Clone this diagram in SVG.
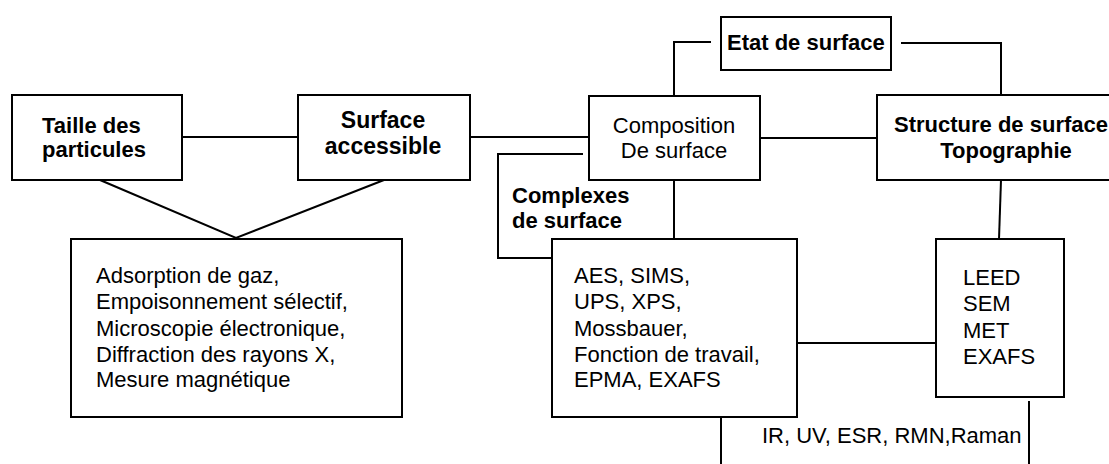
<svg xmlns="http://www.w3.org/2000/svg" width="1109" height="464" viewBox="0 0 1109 464">
<style>
.box{fill:#fff;stroke:#000;stroke-width:2}
.ln{fill:none;stroke:#000;stroke-width:2}
text{font-family:"Liberation Sans",Arial,sans-serif;font-size:22px;fill:#000}
.b{font-weight:bold}
.c{text-anchor:middle}
</style>
<rect width="1109" height="464" fill="#fff"/>
<g id="connectors">
<path class="ln" d="M182 137H298"/>
<path class="ln" d="M100 180L236 238L384 180"/>
<path class="ln" d="M470 137H589"/>
<path class="ln" d="M674 96V42H711"/>
<path class="ln" d="M901 43H1001V95"/>
<path class="ln" d="M760 138H877"/>
<path class="ln" d="M583 154H498V258H552"/>
<path class="ln" d="M674 180V239"/>
<path class="ln" d="M1001 180L999 239"/>
<path class="ln" d="M797 343H936"/>
<path class="ln" d="M721 413V464"/>
<path class="ln" d="M1029 401V464"/>
</g>
<g id="taille">
<rect class="box" x="12" y="95" width="170" height="85"/>
<text class="b" x="42" y="133">Taille des</text>
<text class="b" x="42" y="157">particules</text>
</g>
<g id="surface-accessible">
<rect class="box" x="298" y="95" width="172" height="85"/>
<text class="b c" x="383" y="128" style="font-size:23px">Surface</text>
<text class="b c" x="383" y="154" style="font-size:23px">accessible</text>
</g>
<g id="etat">
<rect class="box" x="721" y="17" width="170" height="53"/>
<text class="b" x="727" y="50">Etat de surface</text>
</g>
<g id="composition">
<rect class="box" x="589" y="96" width="171" height="84"/>
<text class="c" x="674" y="133">Composition</text>
<text class="c" x="674" y="158">De surface</text>
</g>
<g id="structure">
<rect class="box" x="877" y="95" width="252" height="85"/>
<text class="b c" x="1001" y="132">Structure de surface</text>
<text class="b c" x="1006" y="158">Topographie</text>
</g>
<g id="complexes">
<text class="b" x="512" y="203">Complexes</text>
<text class="b" x="512" y="228">de surface</text>
</g>
<g id="methodes-generales">
<rect class="box" x="71" y="239" width="331" height="178"/>
<text x="96" y="283">Adsorption de gaz,</text>
<text x="96" y="309">Empoisonnement sélectif,</text>
<text x="96" y="336">Microscopie électronique,</text>
<text x="96" y="362">Diffraction des rayons X,</text>
<text x="96" y="387">Mesure magnétique</text>
</g>
<g id="aes">
<rect class="box" x="552" y="239" width="245" height="178"/>
<text x="574" y="283">AES, SIMS,</text>
<text x="574" y="309">UPS, XPS,</text>
<text x="574" y="336">Mossbauer,</text>
<text x="574" y="362">Fonction de travail,</text>
<text x="574" y="387">EPMA, EXAFS</text>
</g>
<g id="leed">
<rect class="box" x="936" y="239" width="128" height="158"/>
<text x="963" y="285">LEED</text>
<text x="963" y="311">SEM</text>
<text x="963" y="338">MET</text>
<text x="963" y="364">EXAFS</text>
</g>
<g id="spectro">
<text x="762" y="443">IR, UV, ESR, RMN,Raman</text>
</g>
</svg>
